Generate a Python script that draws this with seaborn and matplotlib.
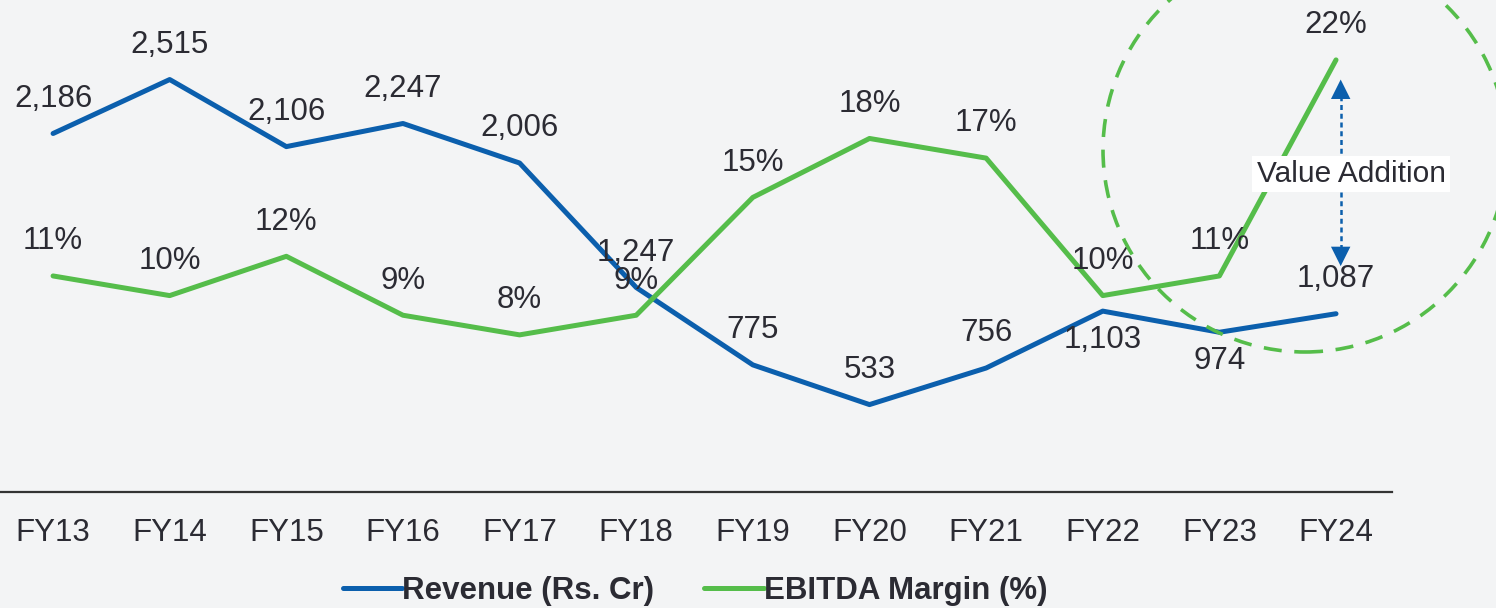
import matplotlib.pyplot as plt
import matplotlib.patches as mpatches
import pandas as pd
import seaborn as sns

years = ['FY13', 'FY14', 'FY15', 'FY16', 'FY17', 'FY18',
         'FY19', 'FY20', 'FY21', 'FY22', 'FY23', 'FY24']
revenue = [2186, 2515, 2106, 2247, 2006, 1247, 775, 533, 756, 1103, 974, 1087]
ebitda = [11, 10, 12, 9, 8, 9, 15, 18, 17, 10, 11, 22]
# revenue labels that sit below the line point
below = ['FY22', 'FY23']

BLUE = '#0b5fad'
GREEN = '#55bd4a'
TEXT = '#2b2b33'
BG = '#f3f4f5'

sns.set_theme(style='white')
plt.rcParams['font.family'] = ['Liberation Sans', 'DejaVu Sans']

df = pd.DataFrame({'x': range(len(years)), 'year': years,
                   'revenue': revenue, 'ebitda': ebitda})

fig = plt.figure(figsize=(14.96, 6.08), dpi=100, facecolor=BG)
ax = fig.add_axes([0, 1 - 492 / 608, 1392 / 1496, 492 / 608])
ax.set_facecolor(BG)
ax2 = ax.twinx()

sns.lineplot(data=df, x='x', y='revenue', ax=ax, color=BLUE, linewidth=3.6,
             label='Revenue (Rs. Cr)', legend=False)
sns.lineplot(data=df, x='x', y='ebitda', ax=ax2, color=GREEN, linewidth=3.6,
             label='EBITDA Margin (%)', legend=False)

ax.set_xlim(-0.455, 11.48)
ax.set_ylim(0, 3000)
ax2.set_ylim(0, 25.05)

for i, (yr, v) in enumerate(zip(years, revenue)):
    dy = -21 if yr in below else 25
    ax.annotate(f'{v:,}', (i, v), xytext=(0, dy), textcoords='offset points',
                ha='center', va='center', fontsize=22.5, color=TEXT)
for i, v in enumerate(ebitda):
    ax2.annotate(f'{v}%', (i, v), xytext=(0, 25), textcoords='offset points',
                 ha='center', va='center', fontsize=22.5, color=TEXT)

# value addition arrow: dashed shaft plus solid heads
ax_x, top, bot = 11.04, 21.0, 11.5
ax2.plot([ax_x, ax_x], [top - 0.4, bot + 0.4], color=BLUE, lw=1.8,
         linestyle=(0, (2, 1.5)))
head = dict(arrowstyle='-|>,head_length=0.7,head_width=0.35', color=BLUE,
            lw=0, mutation_scale=20, shrinkA=0, shrinkB=0)
ax2.annotate('', xy=(ax_x, top), xytext=(ax_x, top - 0.7), arrowprops=head)
ax2.annotate('', xy=(ax_x, bot), xytext=(ax_x, bot + 0.7), arrowprops=head)
ax2.text(11.13, (492 - 174) / 19.64, 'Value Addition', ha='center', va='center',
         fontsize=21.5, color=TEXT,
         bbox=dict(boxstyle='square,pad=0.15', fc='white', ec='none'))

# dashed highlight circle
circle = mpatches.Ellipse((1305 / 1496, 1 - 150 / 608), 404 / 1496, 404 / 608,
                          transform=fig.transFigure, fill=False, ec=GREEN,
                          lw=2.6, linestyle=(0, (5, 3.5)))
fig.add_artist(circle)

for a in (ax, ax2):
    for s in ('top', 'left', 'right'):
        a.spines[s].set_visible(False)
    a.set_ylabel('')
    a.set_yticks([])
ax.spines['bottom'].set_visible(True)
ax.spines['bottom'].set_color('#333333')
ax.spines['bottom'].set_linewidth(1.6)
ax2.spines['bottom'].set_visible(False)

ax.set_xticks(range(len(years)))
ax.set_xticklabels(years, fontsize=22.5, color=TEXT)
ax.tick_params(axis='x', length=0, pad=19)
ax.set_xlabel('')

h1, l1 = ax.get_legend_handles_labels()
h2, l2 = ax2.get_legend_handles_labels()
leg = fig.legend(h1 + h2, l1 + l2, loc='center', ncol=2,
                 bbox_to_anchor=(695 / 1496, 1 - 591 / 608), frameon=False,
                 handlelength=1.9, handletextpad=0.0, columnspacing=1.6,
                 prop={'size': 22.5, 'weight': 'bold'})
for t in leg.get_texts():
    t.set_color(TEXT)

fig.savefig('out.png', dpi=100, facecolor=BG)
